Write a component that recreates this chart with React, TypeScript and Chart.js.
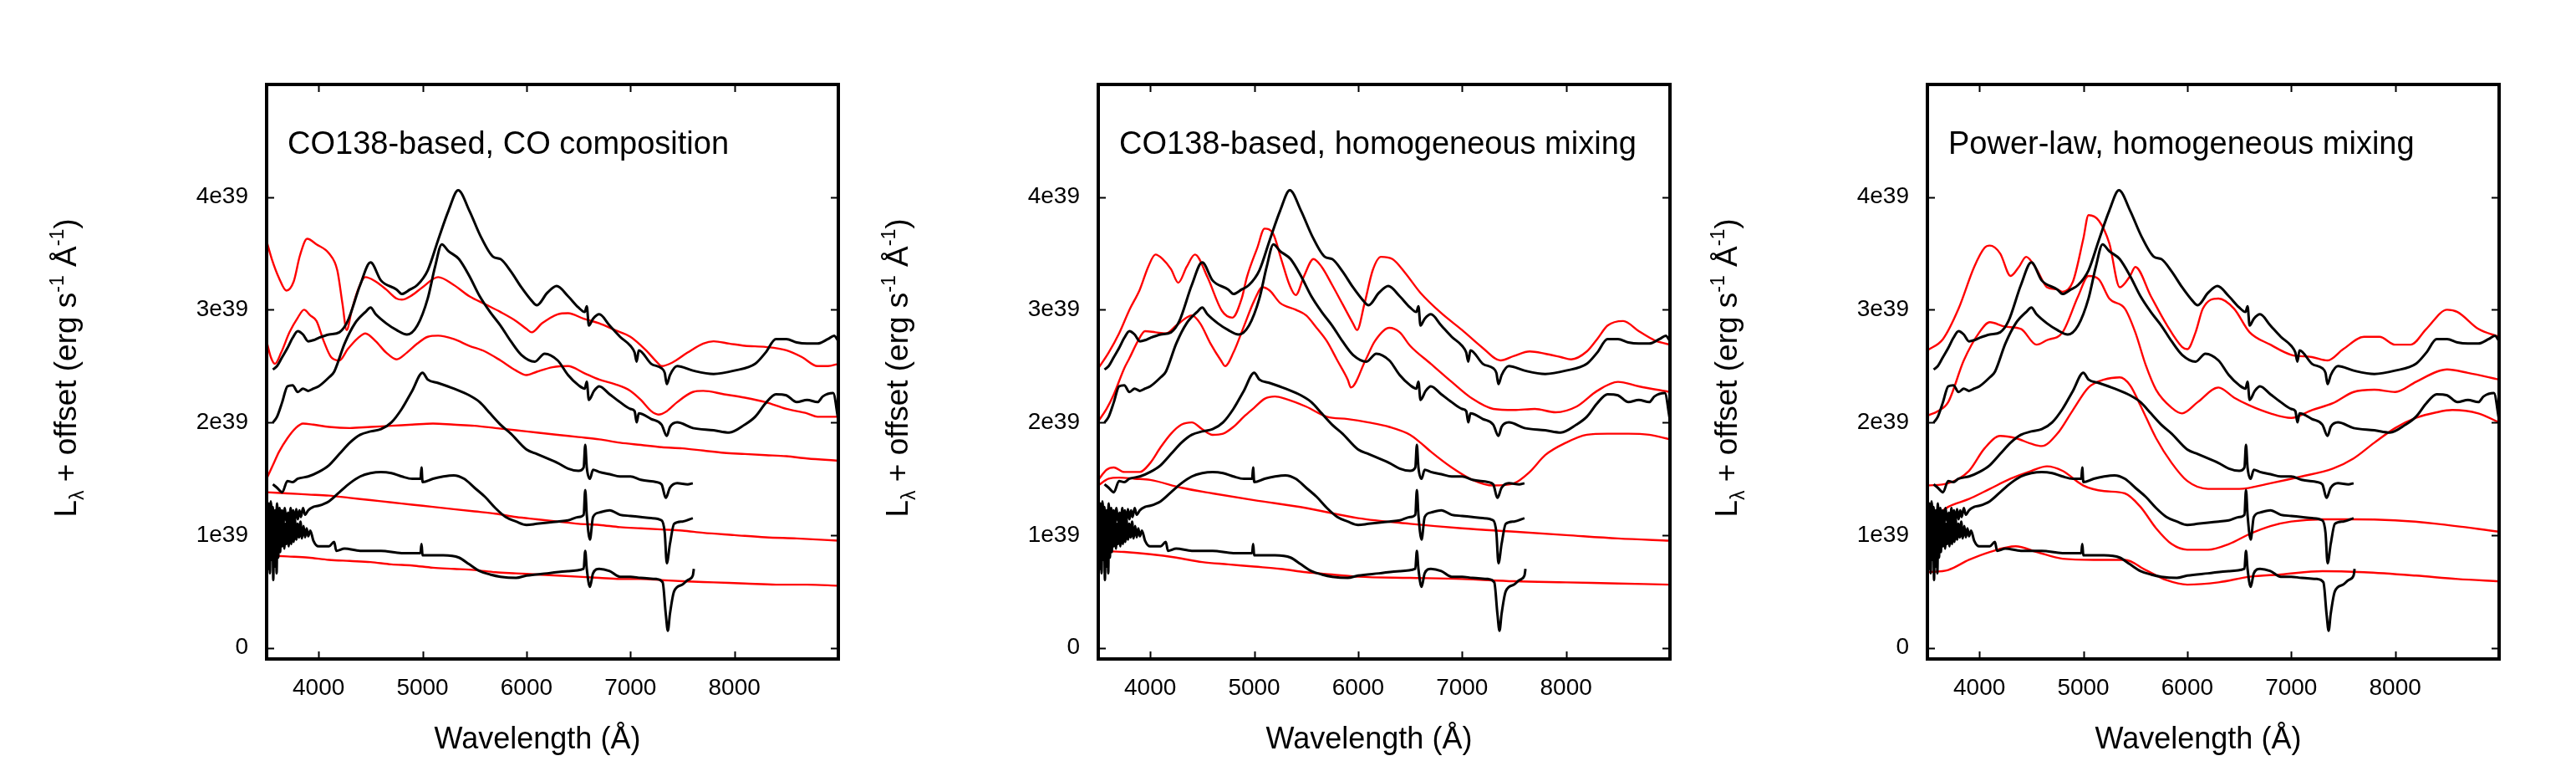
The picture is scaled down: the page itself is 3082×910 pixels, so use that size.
import React, { useEffect, useRef } from "react";
import { Chart, registerables } from "chart.js";

Chart.register(...registerables);

// Axis ranges and ticks (luminosity in units of 1e39 erg/s/Å, plus offset)
const WAVE_MIN = 3500;
const WAVE_MAX = 9000;
const LUM_MIN = -0.1;
const LUM_MAX = 5.0;
const waveTicks = [4000, 5000, 6000, 7000, 8000];
const waveTickLabels = ["4000", "5000", "6000", "7000", "8000"];
const lumTicks = [0, 1, 2, 3, 4];
const lumTickLabels = ["0", "1e39", "2e39", "3e39", "4e39"];

const panelTitles = [
  "CO138-based, CO composition",
  "CO138-based, homogeneous mixing",
  "Power-law, homogeneous mixing",
];

// Observed spectra [wavelength, L + offset], top to bottom
const obsA = [
  [3560, 2.47], [3600, 2.5], [3650, 2.58], [3700, 2.66], [3750, 2.75], [3800, 2.81], [3850, 2.78],
  [3900, 2.72], [3950, 2.73], [4000, 2.75], [4100, 2.78], [4200, 2.8], [4280, 2.9], [4400, 3.22],
  [4500, 3.42], [4600, 3.26], [4750, 3.18], [4800, 3.14], [4880, 3.18], [4950, 3.22], [5050, 3.35],
  [5150, 3.62], [5250, 3.88], [5343, 4.06], [5450, 3.88], [5560, 3.65], [5680, 3.47], [5750, 3.45],
  [5850, 3.34], [5950, 3.2], [6050, 3.08], [6100, 3.04], [6200, 3.15], [6290, 3.21], [6400, 3.12],
  [6500, 3.02], [6560, 2.98], [6580, 3.03], [6600, 2.86], [6640, 2.92], [6700, 2.96], [6800, 2.86],
  [6900, 2.76], [7000, 2.68], [7040, 2.62], [7060, 2.54], [7080, 2.64], [7200, 2.52], [7300, 2.48],
  [7330, 2.44], [7350, 2.34], [7380, 2.42], [7450, 2.5], [7600, 2.46], [7800, 2.43], [8000, 2.46],
  [8200, 2.52], [8300, 2.62], [8400, 2.74], [8500, 2.74], [8600, 2.71], [8700, 2.7], [8800, 2.7],
  [8900, 2.74], [8960, 2.77], [9000, 2.72],
];
const obsB = [
  [3560, 2.0], [3600, 2.05], [3650, 2.18], [3700, 2.32], [3750, 2.33], [3800, 2.27], [3850, 2.3],
  [3900, 2.28], [3950, 2.3], [4000, 2.32], [4100, 2.4], [4150, 2.45], [4250, 2.7], [4350, 2.88],
  [4450, 2.98], [4500, 3.02], [4550, 2.96], [4650, 2.88], [4750, 2.82], [4850, 2.78], [4950, 2.86],
  [5050, 3.1], [5120, 3.38], [5185, 3.58], [5250, 3.52], [5350, 3.45], [5450, 3.3], [5550, 3.12],
  [5650, 2.98], [5750, 2.86], [5850, 2.72], [5950, 2.6], [6080, 2.54], [6175, 2.61], [6300, 2.55],
  [6400, 2.42], [6500, 2.33], [6560, 2.3], [6580, 2.36], [6600, 2.2], [6650, 2.28], [6700, 2.32],
  [6800, 2.25], [6900, 2.18], [7000, 2.12], [7040, 2.1], [7060, 2.0], [7080, 2.08], [7200, 2.03],
  [7300, 1.98], [7350, 1.88], [7380, 1.96], [7450, 2.0], [7600, 1.95], [7800, 1.93], [7950, 1.91],
  [8100, 1.98], [8200, 2.05], [8300, 2.17], [8400, 2.25], [8500, 2.24], [8600, 2.18], [8700, 2.2],
  [8800, 2.18], [8850, 2.23], [8950, 2.26], [9000, 2.02],
];
const obsC = [
  [3560, 1.45], [3600, 1.42], [3650, 1.38], [3700, 1.48], [3750, 1.47], [3800, 1.5], [3900, 1.52],
  [4000, 1.56], [4100, 1.62], [4200, 1.72], [4300, 1.82], [4400, 1.89], [4500, 1.92], [4600, 1.94],
  [4700, 2.0], [4800, 2.12], [4900, 2.28], [5000, 2.44], [5050, 2.38], [5150, 2.35], [5300, 2.3],
  [5450, 2.24], [5550, 2.18], [5650, 2.08], [5750, 1.98], [5850, 1.9], [6000, 1.76], [6100, 1.72],
  [6200, 1.68], [6300, 1.64], [6400, 1.59], [6500, 1.57], [6550, 1.6], [6565, 1.8], [6580, 1.6],
  [6610, 1.5], [6640, 1.58], [6700, 1.56], [6800, 1.54], [6900, 1.52], [7000, 1.52], [7100, 1.49],
  [7250, 1.47], [7300, 1.45], [7340, 1.33], [7380, 1.42], [7450, 1.46], [7550, 1.45], [7600, 1.46],
];
const obsD = [
  [3500, 1.15], [3510, 0.98], [3520, 1.28], [3530, 1.02], [3540, 1.3], [3550, 1.05], [3560, 1.25],
  [3570, 0.98], [3580, 1.22], [3590, 1.05], [3600, 1.28], [3612, 1.08], [3624, 1.24], [3636, 1.1],
  [3648, 1.22], [3660, 1.1], [3675, 1.24], [3690, 1.12], [3705, 1.2], [3718, 1.08], [3731, 1.24],
  [3744, 1.1], [3757, 1.22], [3770, 1.12], [3785, 1.23], [3800, 1.14], [3815, 1.22], [3830, 1.16],
  [3850, 1.24], [3870, 1.18], [3900, 1.22], [3950, 1.25], [4000, 1.26], [4100, 1.3], [4200, 1.38],
  [4300, 1.46], [4400, 1.52], [4500, 1.55], [4600, 1.56], [4700, 1.55], [4800, 1.52], [4900, 1.5],
  [4980, 1.5], [4990, 1.6], [5000, 1.47], [5100, 1.5], [5200, 1.52], [5300, 1.53], [5400, 1.5],
  [5500, 1.42], [5600, 1.34], [5700, 1.24], [5800, 1.16], [5900, 1.12], [6000, 1.09], [6100, 1.1],
  [6200, 1.11], [6300, 1.12], [6400, 1.13], [6500, 1.16], [6550, 1.18], [6565, 1.4], [6580, 1.18],
  [6610, 0.96], [6640, 1.16], [6700, 1.2], [6800, 1.22], [6900, 1.18], [7000, 1.17], [7100, 1.16],
  [7200, 1.15], [7300, 1.13], [7330, 1.02], [7350, 0.75], [7380, 0.92], [7420, 1.1], [7500, 1.12],
  [7600, 1.15],
];
const obsE = [
  [3500, 0.62], [3508, 1.05], [3516, 0.7], [3524, 1.2], [3532, 0.66], [3540, 1.28], [3548, 0.78],
  [3556, 1.15], [3564, 0.6], [3572, 1.1], [3580, 0.72], [3588, 1.22], [3596, 0.66], [3604, 1.12],
  [3612, 0.8], [3620, 1.2], [3630, 0.85], [3640, 1.18], [3650, 0.9], [3660, 1.14], [3670, 0.88],
  [3680, 1.1], [3690, 0.92], [3700, 1.15], [3712, 0.9], [3724, 1.16], [3736, 0.92], [3748, 1.12],
  [3760, 0.94], [3772, 1.14], [3785, 0.96], [3798, 1.1], [3812, 0.98], [3826, 1.12], [3840, 0.97],
  [3855, 1.08], [3870, 0.98], [3885, 1.06], [3900, 0.99], [3920, 1.04], [3950, 0.95], [4000, 0.9],
  [4100, 0.9], [4150, 0.94], [4170, 0.86], [4250, 0.88], [4400, 0.86], [4600, 0.86], [4800, 0.84],
  [4980, 0.84], [4990, 0.92], [5000, 0.82], [5200, 0.82], [5350, 0.8], [5450, 0.74], [5550, 0.68],
  [5650, 0.65], [5750, 0.63], [5900, 0.62], [6000, 0.64], [6200, 0.66], [6400, 0.68], [6550, 0.7],
  [6565, 0.86], [6580, 0.7], [6610, 0.54], [6640, 0.66], [6700, 0.7], [6800, 0.68], [6900, 0.63],
  [7000, 0.63], [7100, 0.62], [7250, 0.61], [7310, 0.58], [7340, 0.3], [7360, 0.15], [7380, 0.3],
  [7420, 0.5], [7500, 0.56], [7550, 0.6], [7600, 0.64], [7610, 0.7],
];

// Models: CO138-based, CO composition
const coComp1 = [
  [3500, 3.61], [3550, 3.45], [3620, 3.28], [3690, 3.17], [3760, 3.25], [3820, 3.48], [3890, 3.63],
  [3980, 3.58], [4100, 3.5], [4180, 3.35], [4230, 3.05], [4270, 2.82], [4320, 3.0], [4380, 3.18],
  [4450, 3.29], [4550, 3.25], [4650, 3.18], [4750, 3.1], [4800, 3.09], [4900, 3.13], [5000, 3.2],
  [5150, 3.29], [5300, 3.22], [5450, 3.12], [5600, 3.05], [5750, 2.98], [5900, 2.9], [6000, 2.83],
  [6050, 2.8], [6150, 2.88], [6300, 2.96], [6400, 2.97], [6550, 2.92], [6700, 2.88], [6850, 2.82],
  [7000, 2.76], [7150, 2.64], [7250, 2.54], [7300, 2.5], [7400, 2.53], [7550, 2.62], [7700, 2.7],
  [7800, 2.72], [7950, 2.7], [8100, 2.68], [8300, 2.67], [8500, 2.64], [8650, 2.58], [8800, 2.5],
  [8900, 2.5], [9000, 2.52],
];
const coComp2 = [
  [3500, 2.72], [3540, 2.58], [3580, 2.52], [3640, 2.62], [3720, 2.8], [3800, 2.93], [3860, 3.0],
  [3920, 2.95], [3980, 2.9], [4050, 2.72], [4120, 2.58], [4200, 2.55], [4280, 2.65], [4380, 2.75],
  [4450, 2.79], [4550, 2.72], [4650, 2.62], [4750, 2.56], [4850, 2.62], [4950, 2.7], [5050, 2.76],
  [5150, 2.77], [5300, 2.74], [5450, 2.68], [5600, 2.63], [5750, 2.55], [5900, 2.46], [6000, 2.42],
  [6100, 2.45], [6250, 2.49], [6400, 2.5], [6550, 2.44], [6700, 2.38], [6850, 2.34], [7000, 2.28],
  [7100, 2.2], [7200, 2.1], [7270, 2.07], [7350, 2.1], [7450, 2.18], [7600, 2.27], [7700, 2.28],
  [7900, 2.25], [8100, 2.22], [8300, 2.18], [8500, 2.12], [8700, 2.08], [8800, 2.05], [9000, 2.05],
];
const coComp3 = [
  [3500, 1.5], [3560, 1.62], [3620, 1.74], [3700, 1.86], [3780, 1.95], [3850, 1.99], [3950, 1.98],
  [4100, 1.96], [4300, 1.95], [4500, 1.96], [4700, 1.97], [4900, 1.98], [5100, 1.99], [5300, 1.98],
  [5500, 1.97], [5700, 1.95], [5900, 1.93], [6100, 1.91], [6300, 1.89], [6500, 1.87], [6700, 1.85],
  [6900, 1.82], [7100, 1.8], [7300, 1.78], [7500, 1.77], [7700, 1.75], [7900, 1.73], [8100, 1.72],
  [8300, 1.71], [8500, 1.7], [8700, 1.68], [9000, 1.66],
];
const coComp4 = [
  [3500, 1.38], [3700, 1.37], [3900, 1.36], [4100, 1.35], [4300, 1.33], [4500, 1.31], [4700, 1.29],
  [4900, 1.27], [5100, 1.25], [5300, 1.23], [5500, 1.21], [5700, 1.19], [5900, 1.16], [6100, 1.14],
  [6300, 1.12], [6500, 1.1], [6700, 1.09], [6900, 1.07], [7100, 1.06], [7300, 1.05], [7500, 1.04],
  [7700, 1.02], [8000, 1.0], [8300, 0.98], [8600, 0.97], [9000, 0.95],
];
const coComp5 = [
  [3500, 0.82], [3700, 0.81], [3900, 0.8], [4100, 0.78], [4300, 0.77], [4500, 0.76], [4700, 0.74],
  [4900, 0.73], [5100, 0.71], [5300, 0.7], [5500, 0.69], [5700, 0.67], [5900, 0.66], [6100, 0.65],
  [6300, 0.64], [6500, 0.63], [6700, 0.62], [6900, 0.61], [7100, 0.61], [7300, 0.6], [7500, 0.59],
  [7800, 0.58], [8100, 0.57], [8400, 0.56], [8700, 0.56], [9000, 0.55],
];

// Models: CO138-based, homogeneous mixing
const coMix1 = [
  [3500, 2.48], [3600, 2.62], [3700, 2.79], [3800, 3.0], [3900, 3.18], [3980, 3.38], [4050, 3.49],
  [4120, 3.45], [4200, 3.36], [4270, 3.24], [4350, 3.38], [4430, 3.49], [4550, 3.29], [4690, 2.99],
  [4790, 2.93], [4880, 3.1], [4930, 3.29], [5030, 3.55], [5100, 3.72], [5180, 3.68], [5260, 3.45],
  [5340, 3.22], [5400, 3.13], [5480, 3.3], [5570, 3.45], [5650, 3.38], [5750, 3.22], [5850, 3.05],
  [5950, 2.88], [5990, 2.82], [6060, 3.05], [6140, 3.35], [6220, 3.47], [6330, 3.45], [6450, 3.33],
  [6600, 3.15], [6800, 2.97], [7000, 2.82], [7200, 2.66], [7370, 2.55], [7500, 2.59], [7650, 2.63],
  [7800, 2.61], [7950, 2.58], [8050, 2.56], [8200, 2.63], [8300, 2.74], [8400, 2.86], [8550, 2.9],
  [8700, 2.81], [8850, 2.73], [9000, 2.69],
];
const coMix2 = [
  [3500, 2.01], [3580, 2.12], [3650, 2.25], [3750, 2.48], [3800, 2.57], [3880, 2.72], [3950, 2.81],
  [4050, 2.8], [4150, 2.79], [4250, 2.86], [4350, 2.93], [4400, 2.95], [4480, 2.88], [4580, 2.7],
  [4680, 2.55], [4720, 2.5], [4800, 2.62], [4900, 2.85], [5000, 3.08], [5080, 3.2], [5150, 3.17],
  [5250, 3.06], [5400, 3.0], [5500, 2.95], [5600, 2.84], [5700, 2.72], [5800, 2.55], [5900, 2.38],
  [5930, 2.31], [6070, 2.55], [6160, 2.72], [6300, 2.84], [6400, 2.8], [6500, 2.68], [6700, 2.52],
  [6900, 2.36], [7100, 2.21], [7300, 2.12], [7500, 2.11], [7700, 2.12], [7900, 2.09], [8100, 2.14],
  [8300, 2.28], [8500, 2.36], [8700, 2.32], [9000, 2.27],
];
const coMix3 = [
  [3500, 1.49], [3580, 1.58], [3650, 1.6], [3750, 1.56], [3900, 1.56], [4000, 1.64], [4100, 1.78],
  [4200, 1.9], [4300, 1.98], [4400, 2.0], [4500, 1.94], [4600, 1.89], [4700, 1.9], [4800, 1.96],
  [4900, 2.05], [5000, 2.13], [5100, 2.21], [5200, 2.23], [5300, 2.21], [5500, 2.14], [5700, 2.05],
  [5900, 2.03], [6100, 2.0], [6300, 1.96], [6500, 1.89], [6600, 1.82], [6700, 1.74], [6900, 1.6],
  [7100, 1.49], [7300, 1.44], [7500, 1.46], [7650, 1.56], [7800, 1.71], [8000, 1.82], [8200, 1.89],
  [8400, 1.9], [8600, 1.9], [8800, 1.89], [9000, 1.85],
];
const coMix4 = [
  [3500, 1.44], [3600, 1.5], [3700, 1.51], [3850, 1.5], [4000, 1.49], [4300, 1.42], [4600, 1.37],
  [5000, 1.31], [5500, 1.24], [6000, 1.15], [6500, 1.1], [7000, 1.06], [7500, 1.03], [8000, 1.0],
  [8500, 0.97], [9000, 0.95],
];
const coMix5 = [
  [3500, 0.86], [3750, 0.85], [4000, 0.83], [4250, 0.8], [4500, 0.76], [4750, 0.74], [5000, 0.72],
  [5250, 0.7], [5500, 0.67], [5750, 0.65], [6000, 0.63], [6500, 0.62], [7000, 0.61], [7500, 0.59],
  [8000, 0.58], [8500, 0.57], [9000, 0.56],
];

// Models: power-law density, homogeneous mixing
const plMix1 = [
  [3500, 2.64], [3650, 2.74], [3800, 3.01], [3950, 3.38], [4050, 3.55], [4100, 3.57], [4200, 3.5],
  [4300, 3.3], [4380, 3.38], [4450, 3.47], [4550, 3.36], [4650, 3.2], [4750, 3.18], [4800, 3.16],
  [4900, 3.25], [5000, 3.63], [5050, 3.84], [5150, 3.79], [5250, 3.59], [5350, 3.2], [5450, 3.3],
  [5500, 3.38], [5650, 3.12], [5800, 2.87], [5950, 2.67], [6000, 2.65], [6080, 2.8], [6150, 3.01],
  [6300, 3.1], [6450, 3.01], [6600, 2.8], [6800, 2.69], [7000, 2.6], [7200, 2.58], [7350, 2.55],
  [7500, 2.65], [7700, 2.76], [7850, 2.76], [8000, 2.69], [8150, 2.69], [8300, 2.83], [8500, 3.0],
  [8600, 2.98], [8800, 2.83], [9000, 2.76],
];
const plMix2 = [
  [3500, 2.06], [3600, 2.1], [3700, 2.18], [3850, 2.55], [4000, 2.8], [4100, 2.89], [4250, 2.85],
  [4400, 2.83], [4550, 2.69], [4650, 2.73], [4800, 2.8], [4950, 3.12], [5050, 3.3], [5150, 3.27],
  [5250, 3.1], [5400, 3.01], [5500, 2.8], [5600, 2.51], [5700, 2.29], [5850, 2.13], [5950, 2.08],
  [6100, 2.18], [6300, 2.31], [6450, 2.22], [6600, 2.15], [6800, 2.08], [7000, 2.04], [7200, 2.11],
  [7400, 2.17], [7600, 2.27], [7800, 2.29], [8000, 2.27], [8200, 2.36], [8400, 2.45], [8500, 2.47],
  [8700, 2.44], [9000, 2.38],
];
const plMix3 = [
  [3500, 1.44], [3700, 1.46], [3900, 1.57], [4050, 1.77], [4200, 1.88], [4350, 1.86], [4500, 1.81],
  [4600, 1.79], [4750, 1.9], [4900, 2.11], [5050, 2.31], [5200, 2.38], [5350, 2.4], [5450, 2.33],
  [5550, 2.15], [5700, 1.86], [5850, 1.64], [6000, 1.48], [6200, 1.41], [6500, 1.41], [6800, 1.46],
  [7100, 1.52], [7400, 1.59], [7600, 1.68], [7800, 1.82], [8000, 1.95], [8200, 2.04], [8400, 2.09],
  [8550, 2.11], [8800, 2.08], [9000, 2.0],
];
const plMix4 = [
  [3500, 1.1], [3600, 1.18], [3700, 1.25], [3900, 1.32], [4100, 1.41], [4300, 1.5], [4500, 1.57],
  [4650, 1.61], [4800, 1.57], [5000, 1.44], [5200, 1.39], [5400, 1.37], [5550, 1.25], [5700, 1.06],
  [5850, 0.92], [6000, 0.87], [6200, 0.87], [6400, 0.92], [6600, 1.01], [6800, 1.08], [7000, 1.12],
  [7300, 1.14], [7600, 1.14], [8000, 1.13], [8400, 1.1], [9000, 1.03],
];
const plMix5 = [
  [3500, 0.67], [3700, 0.69], [3900, 0.78], [4100, 0.85], [4350, 0.9], [4550, 0.85], [4800, 0.79],
  [5100, 0.78], [5400, 0.78], [5600, 0.69], [5800, 0.6], [6000, 0.56], [6300, 0.58], [6600, 0.63],
  [6900, 0.65], [7300, 0.68], [7700, 0.67], [8200, 0.64], [8600, 0.61], [9000, 0.59],
];

const observed = [obsA, obsB, obsC, obsD, obsE];
const models = [
  [coComp1, coComp2, coComp3, coComp4, coComp5],
  [coMix1, coMix2, coMix3, coMix4, coMix5],
  [plMix1, plMix2, plMix3, plMix4, plMix5],
];

// Page layout
const FONT = '"Liberation Sans", Arial, Helvetica, sans-serif';
const AXIS_SPACE = 300; // room left of the frame for tick labels and axis title
const PLOT_W = 684;
const PLOT_TOP = 101;
const PLOT_BOTTOM = 788;
const CANVAS_W = AXIS_SPACE + PLOT_W + 10;
const CANVAS_H = 910;
const frameLefts = [319, 1314, 2306];

const toXY = (pts: number[][]) => pts.map(([x, y]) => ({ x, y }));

function decorPlugin(title: string) {
  return {
    id: "panelDecor",
    afterDraw(chart: any) {
      const { ctx, chartArea: a, scales } = chart;
      const xs = scales.x;
      const ys = scales.y;
      ctx.save();
      ctx.strokeStyle = "#000";
      ctx.fillStyle = "#000";

      // inward tick marks on all four sides
      ctx.lineWidth = 2;
      ctx.beginPath();
      for (const w of waveTicks) {
        const px = Math.round(xs.getPixelForValue(w)) + 0.5;
        ctx.moveTo(px, a.bottom);
        ctx.lineTo(px, a.bottom - 9);
        ctx.moveTo(px, a.top);
        ctx.lineTo(px, a.top + 9);
      }
      for (const v of lumTicks) {
        const py = Math.round(ys.getPixelForValue(v)) + 0.5;
        ctx.moveTo(a.left, py);
        ctx.lineTo(a.left + 9, py);
        ctx.moveTo(a.right, py);
        ctx.lineTo(a.right - 9, py);
      }
      ctx.stroke();

      // frame
      ctx.lineWidth = 4;
      ctx.strokeRect(a.left, a.top, a.right - a.left, a.bottom - a.top);

      // panel title
      ctx.font = `38px ${FONT}`;
      ctx.textAlign = "left";
      ctx.textBaseline = "alphabetic";
      ctx.fillText(title, a.left + 25, 184);

      // x axis title
      ctx.font = `36px ${FONT}`;
      ctx.textAlign = "center";
      ctx.fillText("Wavelength (Å)", (a.left + a.right) / 2 - 18, 895);

      // y axis title with subscript and superscripts, rotated
      const big = `37px ${FONT}`;
      const small = `23px ${FONT}`;
      const parts: [string, string, number][] = [
        ["L", big, 0],
        ["λ", small, 9],
        [" + offset (erg s", big, 0],
        ["-1", small, -15],
        [" Å", big, 0],
        ["-1", small, -15],
        [")", big, 0],
      ];
      let total = 0;
      const widths = parts.map(([t, f]) => {
        ctx.font = f;
        const w = ctx.measureText(t).width;
        total += w;
        return w;
      });
      ctx.translate(a.left - 228, 440);
      ctx.rotate(-Math.PI / 2);
      ctx.textAlign = "left";
      let cx = -total / 2;
      parts.forEach(([t, f, dy], i) => {
        ctx.font = f;
        ctx.fillText(t, cx, dy);
        cx += widths[i];
      });
      ctx.restore();
    },
  };
}

function Panel({ index }: { index: number }) {
  const ref = useRef<HTMLCanvasElement>(null);

  useEffect(() => {
    const canvas = ref.current;
    if (!canvas) return;
    const black = observed.map((pts) => ({
      data: toXY(pts),
      borderColor: "#000000",
      borderWidth: 3,
    }));
    const red = models[index].map((pts) => ({
      data: toXY(pts),
      borderColor: "#ff0000",
      borderWidth: 2.4,
    }));
    const chart = new Chart(canvas, {
      type: "line",
      data: {
        datasets: [...black, ...red].map((d) => ({
          ...d,
          pointRadius: 0,
          fill: false,
          cubicInterpolationMode: "monotone" as const,
          borderJoinStyle: "round" as const,
        })),
      },
      options: {
        animation: false,
        responsive: false,
        devicePixelRatio: 1,
        layout: { padding: { top: PLOT_TOP, left: 0, right: 10, bottom: 0 } },
        plugins: { legend: { display: false }, tooltip: { enabled: false } },
        scales: {
          x: {
            type: "linear",
            min: WAVE_MIN,
            max: WAVE_MAX,
            grid: { display: false, drawTicks: false },
            border: { display: false },
            afterBuildTicks: (s: any) => {
              s.ticks = waveTicks.map((value) => ({ value }));
            },
            afterFit: (s: any) => {
              s.height = CANVAS_H - PLOT_BOTTOM;
            },
            ticks: {
              padding: 18,
              color: "#000",
              font: { family: FONT, size: 28 },
              maxRotation: 0,
              autoSkip: false,
              callback: (v: any) => waveTickLabels[waveTicks.indexOf(Number(v))],
            },
          },
          y: {
            type: "linear",
            min: LUM_MIN,
            max: LUM_MAX,
            grid: { display: false, drawTicks: false },
            border: { display: false },
            afterBuildTicks: (s: any) => {
              s.ticks = lumTicks.map((value) => ({ value }));
            },
            afterFit: (s: any) => {
              s.width = AXIS_SPACE;
            },
            ticks: {
              padding: 22,
              color: "#000",
              font: { family: FONT, size: 28 },
              autoSkip: false,
              callback: (v: any) => lumTickLabels[lumTicks.indexOf(Number(v))],
            },
          },
        },
      },
      plugins: [decorPlugin(panelTitles[index])],
    });
    return () => chart.destroy();
  }, [index]);

  return (
    <canvas
      ref={ref}
      width={CANVAS_W}
      height={CANVAS_H}
      style={{
        position: "absolute",
        left: frameLefts[index] - AXIS_SPACE,
        top: 0,
        width: CANVAS_W,
        height: CANVAS_H,
      }}
    />
  );
}

export default function App() {
  return (
    <div
      style={{
        position: "absolute",
        left: 0,
        top: 0,
        width: 3082,
        height: 910,
        background: "#ffffff",
        overflow: "hidden",
      }}
    >
      {[0, 1, 2].map((i) => (
        <Panel key={i} index={i} />
      ))}
    </div>
  );
}
